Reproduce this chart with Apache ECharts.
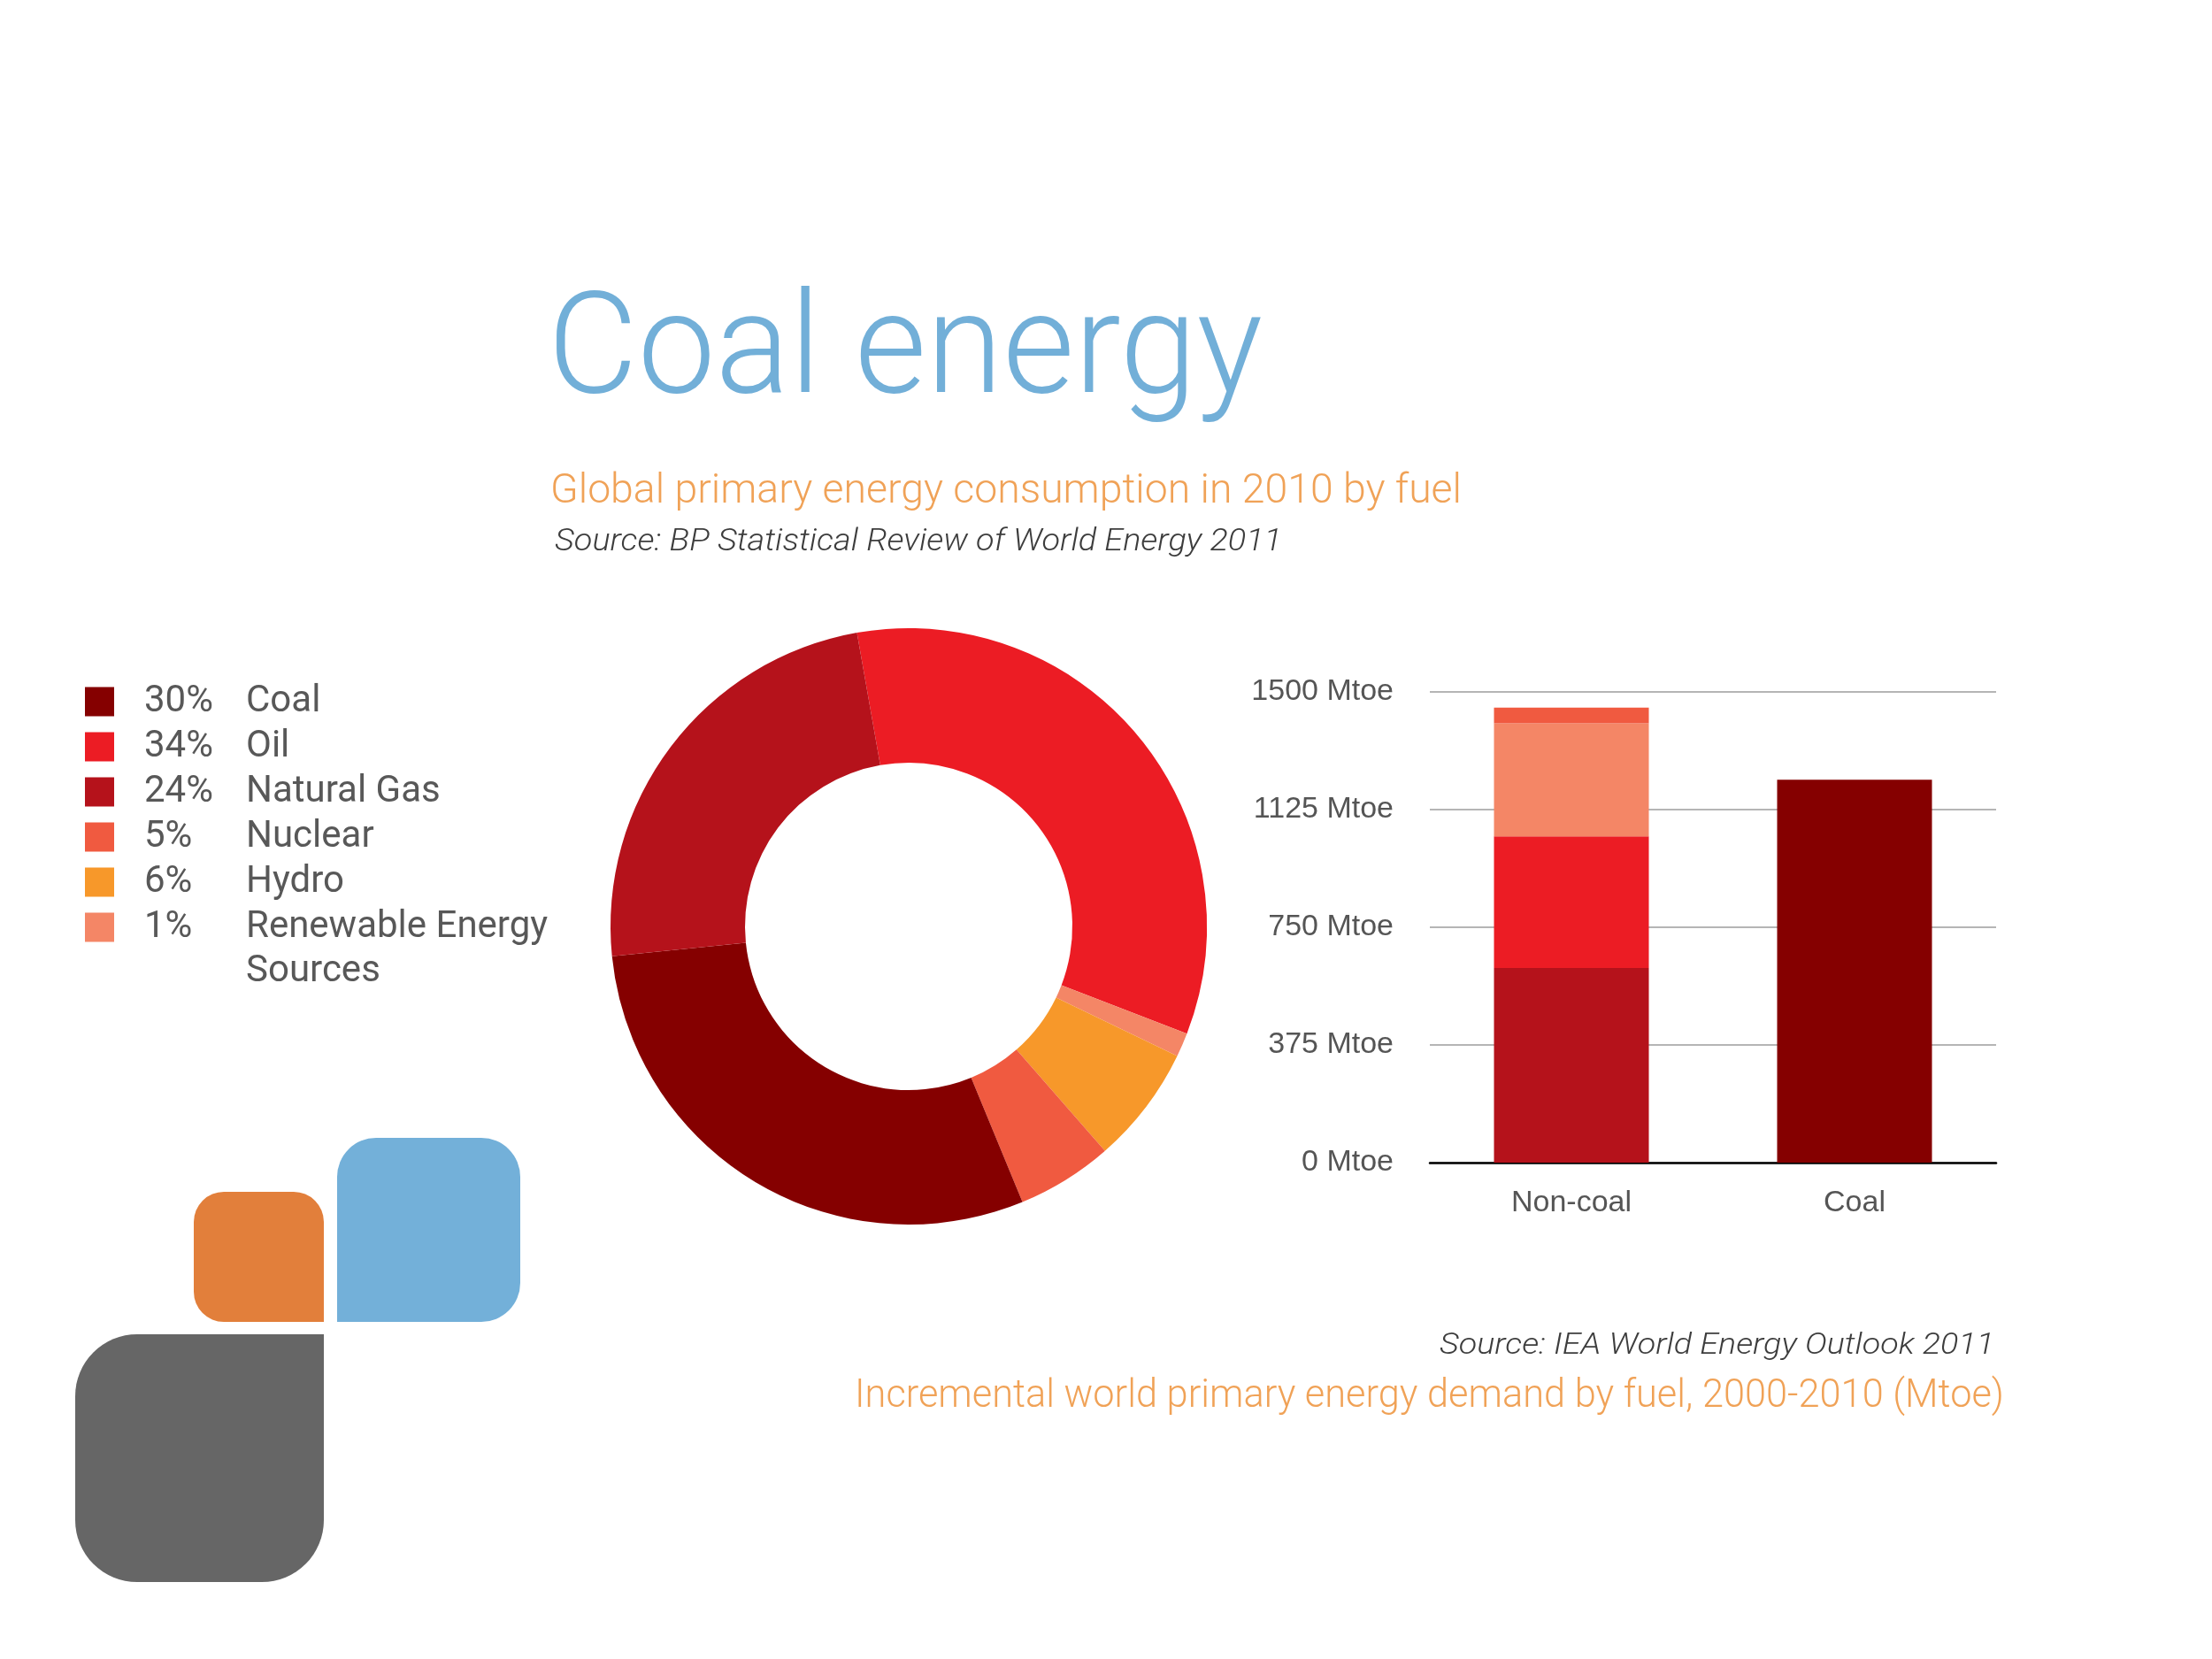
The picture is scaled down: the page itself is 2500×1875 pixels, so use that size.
<!DOCTYPE html>
<html>
<head>
<meta charset="utf-8">
<script src="https://cdn.jsdelivr.net/npm/echarts@6/dist/echarts.min.js"></script>
<style>
html,body{margin:0;padding:0;background:#ffffff;}
#chart{width:2500px;height:1875px;}
</style>
</head>
<body>
<div id="chart"></div>
<script>
// ---------------- data ----------------
const fuelNames = ['Coal', 'Oil', 'Natural Gas', 'Nuclear', 'Hydro', 'Renewable Energy Sources'];
const fuelShares2010 = [29.6, 33.6, 23.8, 5.2, 6.4, 1.3];          // % of global primary energy, 2010
const legendLines = [['Coal'], ['Oil'], ['Natural Gas'], ['Nuclear'], ['Hydro'], ['Renewable Energy', 'Sources']];
const donutOrder = ['Oil', 'Renewable Energy Sources', 'Hydro', 'Nuclear', 'Coal', 'Natural Gas'];

const barCategories = ['Non-coal', 'Coal'];
const incNaturalGas = [620, null];   // Mtoe, 2000-2010
const incOil = [420, null];
const incRenewables = [360, null];
const incNuclear = [50, null];
const incCoal = [null, 1220];
const yTicks = [0, 375, 750, 1125, 1500];
const yUnit = 'Mtoe';

const titleText = 'Coal energy';
const subtitleText = 'Global primary energy consumption in 2010 by fuel';
const sourceBP = 'Source: BP Statistical Review of World Energy 2011';
const sourceIEA = 'Source: IEA World Energy Outlook 2011';
const barTitle = 'Incremental world primary energy demand by fuel, 2000-2010 (Mtoe)';

// ---------------- styles ----------------
const fuelColors = {
  'Coal': '#850000',
  'Oil': '#ec1c24',
  'Natural Gas': '#b5121b',
  'Nuclear': '#f05a40',
  'Hydro': '#f7982a',
  'Renewable Energy Sources': '#f48666'
};
const ORANGE_TEXT = '#f0a257';
const BLUE_TITLE = '#72afd8';
const SRC_TEXT = '#3d3d3d';
const LEG_TEXT = '#585858';

const measureCtx = document.createElement('canvas').getContext('2d');
function fontStr(style, weight, size, family) {
  return style + ' ' + weight + ' ' + size.toFixed(2) + 'px ' + family;
}
// text block whose cap height and width match the target; returns a graphic element
function fittedText(opt) {
  const size = opt.capH / opt.capRatio;
  const font = fontStr(opt.style || 'normal', opt.weight || 'normal', size, opt.family);
  measureCtx.font = font;
  const w = measureCtx.measureText(opt.text).width;
  const sx = opt.width ? opt.width / w : 1;
  return {
    type: 'text',
    x: opt.x,
    y: opt.baseline - 0.275 * size,
    scaleX: sx,
    silent: true,
    style: {
      text: opt.text,
      font: font,
      fill: opt.fill,
      align: opt.align || 'left',
      textAlign: opt.align || 'left',
      verticalAlign: 'middle',
      textVerticalAlign: 'middle'
    }
  };
}

const chart = echarts.init(document.getElementById('chart'), null, { renderer: 'canvas' });

// legend geometry
const LEG_LEFT = 96, LEG_TOP = 772, LEG_ICON = 33, LEG_PITCH = 51;
const LEG_FONT = 42;
const LEG_FAMILY = 'Roboto, "Noto Sans", sans-serif';
const LEG_ICON_TOP = 775.7;

const graphics = [];
// decorative logo tiles
graphics.push({ type: 'rect', silent: true, shape: { x: 219, y: 1347, width: 147, height: 147, r: [34, 34, 0, 34] }, style: { fill: '#e27f3b' } });
graphics.push({ type: 'rect', silent: true, shape: { x: 381, y: 1286, width: 207, height: 208, r: [44, 44, 44, 0] }, style: { fill: '#73b0d9' } });
graphics.push({ type: 'rect', silent: true, shape: { x: 85, y: 1508, width: 281, height: 280, r: [70, 0, 70, 70] }, style: { fill: '#666666' } });

// titles and sources
graphics.push(fittedText({ text: titleText, x: 619, baseline: 447, capH: 113, width: 808, capRatio: 0.711,
  family: 'Roboto', weight: 300, fill: BLUE_TITLE }));
graphics.push(fittedText({ text: subtitleText, x: 622, baseline: 569, capH: 33, width: 1030, capRatio: 0.711,
  family: 'Roboto', weight: 300, fill: ORANGE_TEXT }));
graphics.push(fittedText({ text: sourceBP, x: 627, baseline: 623, capH: 25, width: 822, capRatio: 0.711,
  family: 'Roboto', weight: 300, style: 'italic', fill: SRC_TEXT }));
graphics.push(fittedText({ text: sourceIEA, x: 2254, baseline: 1531, capH: 24, width: 627, capRatio: 0.711,
  family: 'Roboto', weight: 300, style: 'italic', fill: SRC_TEXT, align: 'right' }));
graphics.push(fittedText({ text: barTitle, x: 2265, baseline: 1591, capH: 31.5, width: 1299, capRatio: 0.711,
  family: 'Roboto', weight: 300, fill: ORANGE_TEXT, align: 'right' }));

// continuation lines of wrapped legend labels
legendLines.forEach(function (lines, i) {
  for (let k = 1; k < lines.length; k++) {
    graphics.push({
      type: 'text', silent: true,
      x: LEG_LEFT + LEG_ICON + 5 + 29 + 115,
      y: LEG_ICON_TOP + i * LEG_PITCH + LEG_ICON / 2 + k * LEG_PITCH,
      style: { text: lines[k], font: 'normal 400 ' + LEG_FONT + 'px ' + LEG_FAMILY, fill: LEG_TEXT,
        align: 'left', textAlign: 'left', verticalAlign: 'middle', textVerticalAlign: 'middle' }
    });
  }
});

const donutData = donutOrder.map(function (name) {
  const i = fuelNames.indexOf(name);
  return { name: name, value: fuelShares2010[i], itemStyle: { color: fuelColors[name] } };
});

const barStyleCommon = { type: 'bar', stack: 'inc', barWidth: 175, silent: true, xAxisIndex: 0, yAxisIndex: 0 };

const option = {
  backgroundColor: '#ffffff',
  animation: false,
  legend: {
    show: true,
    orient: 'vertical',
    left: LEG_LEFT,
    top: LEG_TOP,
    itemWidth: LEG_ICON,
    itemHeight: LEG_ICON,
    itemGap: LEG_PITCH - LEG_FONT,
    icon: 'rect',
    selectedMode: false,
    padding: 0,
    data: fuelNames,
    formatter: function (name) {
      const i = fuelNames.indexOf(name);
      return '{p|' + Math.round(fuelShares2010[i]) + '%}{n|' + legendLines[i][0] + '}';
    },
    textStyle: {
      color: LEG_TEXT,
      fontFamily: LEG_FAMILY,
      fontSize: LEG_FONT,
      lineHeight: LEG_ICON,
      padding: [0, 0, 0, 29],
      rich: {
        p: { width: 115, color: LEG_TEXT, fontFamily: LEG_FAMILY, fontSize: LEG_FONT, lineHeight: LEG_ICON },
        n: { color: LEG_TEXT, fontFamily: LEG_FAMILY, fontSize: LEG_FONT, lineHeight: LEG_ICON }
      }
    }
  },
  grid: {
    left: 1616,
    right: 244,
    top: 782,
    bottom: 561,
    containLabel: false
  },
  xAxis: {
    type: 'category',
    data: barCategories,
    axisTick: { show: false },
    axisLine: { show: true, lineStyle: { color: '#000000', width: 2.5 } },
    axisLabel: { color: '#555555', fontFamily: '"Liberation Sans", Arial, sans-serif', fontSize: 34, margin: 29 },
    splitLine: { show: false }
  },
  yAxis: {
    type: 'value',
    min: yTicks[0],
    max: yTicks[yTicks.length - 1],
    interval: yTicks[1] - yTicks[0],
    axisLine: { show: false },
    axisTick: { show: false },
    axisLabel: {
      color: '#555555', fontFamily: '"Liberation Sans", Arial, sans-serif', fontSize: 34, margin: 41,
      padding: [6, 0, 0, 0],
      formatter: function (v) { return v + ' ' + yUnit; }
    },
    splitLine: { show: true, lineStyle: { color: '#b5b5b5', width: 2 } }
  },
  series: [
    {
      type: 'pie',
      name: 'Global primary energy consumption 2010',
      center: [1027, 1047],
      radius: [185, 337],
      startAngle: 100,
      clockwise: true,
      silent: true,
      avoidLabelOverlap: false,
      label: { show: false },
      labelLine: { show: false },
      emphasis: { disabled: true },
      itemStyle: { borderWidth: 0 },
      data: donutData
    },
    Object.assign({ name: 'Incremental natural gas', data: incNaturalGas, itemStyle: { color: fuelColors['Natural Gas'] } }, barStyleCommon),
    Object.assign({ name: 'Incremental oil', data: incOil, itemStyle: { color: fuelColors['Oil'] } }, barStyleCommon),
    Object.assign({ name: 'Incremental renewables', data: incRenewables, itemStyle: { color: fuelColors['Renewable Energy Sources'] } }, barStyleCommon),
    Object.assign({ name: 'Incremental nuclear', data: incNuclear, itemStyle: { color: fuelColors['Nuclear'] } }, barStyleCommon),
    Object.assign({ name: 'Incremental coal', data: incCoal, itemStyle: { color: fuelColors['Coal'] } }, barStyleCommon)
  ],
  graphic: { elements: graphics }
};

chart.setOption(option);
</script>
</body>
</html>
